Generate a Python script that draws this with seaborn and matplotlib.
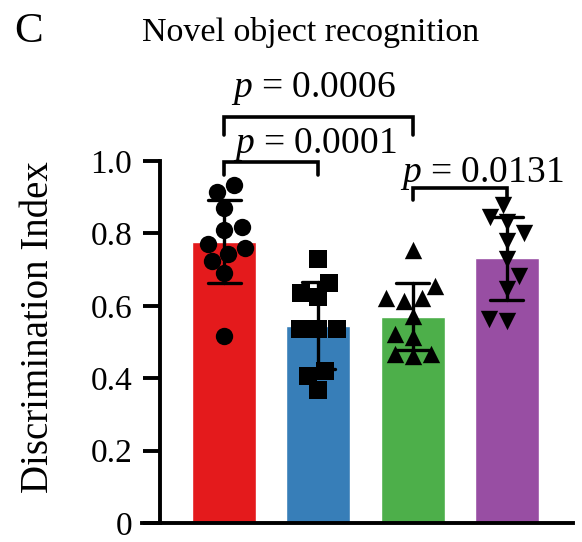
import numpy as np
import pandas as pd
import matplotlib
matplotlib.use("Agg")
import matplotlib.pyplot as plt
import seaborn as sns

# ---- data ----
groups = ["G1", "G2", "G3", "G4"]
g1_vals = [0.933, 0.914, 0.870, 0.817, 0.810, 0.772, 0.761, 0.744, 0.725, 0.690, 0.517]
g2_vals = [0.730, 0.664, 0.636, 0.625, 0.536, 0.536, 0.536, 0.419, 0.406, 0.367]
g3_vals = [0.755, 0.656, 0.622, 0.622, 0.614, 0.572, 0.522, 0.514, 0.467, 0.467, 0.461]
g4_vals = [0.878, 0.845, 0.831, 0.800, 0.780, 0.730, 0.683, 0.647, 0.564, 0.558]
bar_colors = ["#E41A1C", "#377EB8", "#4DAF4A", "#984EA3"]
markers = ["o", "s", "^", "v"]
yticks = [0, 0.2, 0.4, 0.6, 0.8, 1.0]
ytick_labels = ["0", "0.2", "0.4", "0.6", "0.8", "1.0"]
comparisons = [(0, 2, "0.0006"), (0, 1, "0.0001"), (2, 3, "0.0131")]

vals = [g1_vals, g2_vals, g3_vals, g4_vals]
df = pd.DataFrame({
    "group": np.concatenate([[g] * len(v) for g, v in zip(groups, vals)]),
    "value": np.concatenate(vals),
})

sns.set_style("ticks")
plt.rcParams["font.family"] = ["Liberation Serif", "DejaVu Serif"]
plt.rcParams["mathtext.fontset"] = "custom"
plt.rcParams["mathtext.rm"] = "Liberation Serif"
plt.rcParams["mathtext.it"] = "Liberation Serif:italic"
plt.rcParams["text.color"] = "black"
plt.rcParams["axes.labelcolor"] = "black"
plt.rcParams["axes.edgecolor"] = "black"
plt.rcParams["xtick.color"] = "black"
plt.rcParams["ytick.color"] = "black"

W, H = 582, 542
fig = plt.figure(figsize=(W / 100, H / 100), dpi=100)
ax = fig.add_axes([160 / W, (H - 523) / H, 413 / W, 362 / H])

sns.barplot(data=df, x="group", y="value", order=groups, hue="group",
            palette=bar_colors, errorbar="sd", capsize=0.35, width=0.68,
            err_kws={"color": "black", "linewidth": 2.4}, legend=False, ax=ax,
            saturation=1)
for ln in ax.lines:
    ln.set_zorder(6)

for g, m in zip(groups, markers):
    sub = df[df["group"] == g]
    sns.swarmplot(data=sub, x="group", y="value", order=groups, marker=m,
                  color="black", size=12.5, ax=ax, zorder=4, linewidth=0)

ax.set_xlim(-0.679, 3.70)
ax.set_ylim(0, 1.0)
ax.set_yticks(yticks)
ax.set_yticklabels(ytick_labels)
ax.tick_params(axis="y", length=12, width=2.8, pad=8, labelsize=24,
               colors="black")
ax.tick_params(axis="x", bottom=False, labelbottom=False)
ax.set_xlabel("")
ax.set_ylabel("Discrimination Index", fontsize=28, color="black")
ax.yaxis.set_label_coords(-0.25, 0.54)
for s in ["top", "right"]:
    ax.spines[s].set_visible(False)
for s in ["left", "bottom"]:
    ax.spines[s].set_linewidth(2.8)
    ax.spines[s].set_color("black")
ax.spines["bottom"].set_bounds(-0.87, 3.70)

# significance brackets
bracket_y = [1.122, 0.997, 0.925]
leg_y = [1.072, 0.961, 0.892]
text_x = [0.07, 0.095, 1.87]
text_y = [1.176, 1.022, 0.942]
for (a, b, p), by, ly, tx, ty in zip(comparisons, bracket_y, leg_y, text_x, text_y):
    ax.plot([a, a, b, b], [ly, by, by, ly], color="black", lw=2.6,
            clip_on=False, solid_joinstyle="miter")
    ax.text(tx, ty, r"$p$ = " + p, fontsize=27, ha="left", va="baseline",
            clip_on=False, color="black")

fig.text(311 / W, 1 - 41 / H, "Novel object recognition", fontsize=24.5,
         ha="center", va="baseline", color="black")
fig.text(14 / W, 1 - 42 / H, "C", fontsize=31, ha="left", va="baseline",
         color="black")

fig.savefig("out.png", dpi=100, facecolor="white")
